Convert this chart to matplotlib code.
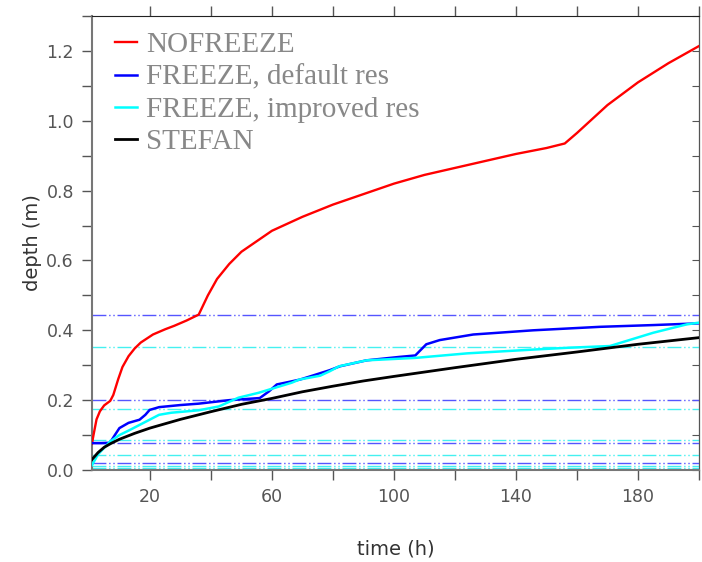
import matplotlib
matplotlib.use("Agg")
import matplotlib.pyplot as plt
import numpy as np

# NOFREEZE
t_nof = [1, 1.5, 2.5, 3.6, 5, 7, 8, 9.6, 11, 13, 15, 17, 21, 25, 28, 32, 36,
         39, 42, 46, 50, 55, 60, 70, 80, 90, 100, 110, 120, 130, 140, 150, 156,
         160, 170, 180, 190, 200]
d_nof = [0.075, 0.1, 0.145, 0.168, 0.185, 0.198, 0.215, 0.26, 0.295, 0.326, 0.348, 0.365,
         0.388, 0.403, 0.413, 0.428, 0.445, 0.5, 0.547, 0.59, 0.625, 0.655, 0.685,
         0.725, 0.76, 0.79, 0.82, 0.845, 0.865, 0.885, 0.905, 0.922, 0.935,
         0.965, 1.045, 1.11, 1.165, 1.214]

# FREEZE, default res
t_def = [1, 4, 6.9, 8.5, 10, 13, 16.6, 18.5, 19.9, 23, 30, 36, 46, 56, 59, 61.6, 66,
         69.2, 72.5, 79, 82.3, 91, 102, 107, 110.6, 115, 126, 145.6, 167.6, 185, 200]
d_def = [0.077, 0.077, 0.078, 0.1, 0.12, 0.135, 0.144, 0.158, 0.172, 0.18, 0.186, 0.19,
         0.2, 0.206, 0.225, 0.245, 0.253, 0.259, 0.268, 0.286, 0.297, 0.314, 0.324, 0.328,
         0.36, 0.372, 0.388, 0.4, 0.41, 0.415, 0.42]

# FREEZE, improved res
t_imp = [1, 3, 6.9, 10, 13.5, 19.9, 23, 27, 36, 42.6, 49, 55.6, 66.5, 69, 75.8, 79,
         82, 91, 107, 124, 146, 157, 170.8, 185, 196, 200]
d_imp = [0.014, 0.045, 0.081, 0.1, 0.115, 0.144, 0.158, 0.164, 0.171, 0.182, 0.207, 0.221,
         0.25, 0.259, 0.27, 0.283, 0.297, 0.314, 0.321, 0.334, 0.345, 0.35, 0.355, 0.393,
         0.417, 0.422]

# STEFAN
t_ste = [1, 3, 5, 7, 10, 15, 20, 30, 40, 50, 60, 70, 80, 90, 100, 120, 140, 160, 180, 200]
d_ste = [0.03, 0.05, 0.065, 0.075, 0.088, 0.105, 0.12, 0.145, 0.167, 0.188, 0.205, 0.224,
         0.24, 0.255, 0.268, 0.293, 0.317, 0.338, 0.36, 0.379]

# layer interfaces
lev_def = [0.0193, 0.0786, 0.2, 0.443]
lev_imp = [0.005, 0.0115, 0.0432, 0.086, 0.176, 0.351]

labels = ["NOFREEZE", "FREEZE, default res", "FREEZE, improved res", "STEFAN"]
colors = ["#ff0000", "#0000ff", "#00ffff", "#000000"]

fig = plt.figure(figsize=(7.02, 5.62), dpi=100)
ax = fig.add_axes([0.131, 0.1637, 0.8647, 0.8078])

for y in lev_def:
    ax.axhline(y, color="#5555ff", lw=1.0, ls=(0, (10, 2, 1, 2, 1, 2)), zorder=1)
for y in lev_imp:
    ax.axhline(y, color="#44f0f0", lw=1.0, ls=(0, (10, 2, 1, 2, 1, 2)), zorder=1)

series = [(t_nof, d_nof), (t_def, d_def), (t_imp, d_imp), (t_ste, d_ste)]
lws = [1.7, 1.8, 1.8, 2.0]
for (t, d), c, lab, lw in zip(series, colors, labels, lws):
    ax.plot(t, d, color=c, lw=lw, label=lab, zorder=3)

ax.set_xlim(1, 200)
ax.set_ylim(0, 1.3)

xt = np.arange(20, 201, 20)
ax.set_xticks(xt)
ax.set_xticklabels([str(v) if v in (20, 60, 100, 140, 180) else "" for v in xt])
yt = np.round(np.arange(0, 1.31, 0.1), 1)
ax.set_yticks(yt)
ax.set_yticklabels([f"{v:.1f}" if round(v * 10) % 2 == 0 else "" for v in yt])

ax.tick_params(axis="both", which="both", direction="out", length=7, width=1,
               colors="#555555", labelsize=12.5, pad=6)
ax.tick_params(top=True, right=False)
sec = ax.secondary_yaxis("right")
sec.set_yticks(yt)
sec.set_yticklabels([])
sec.tick_params(direction="in", length=5, colors="#555555")
for s in ["left", "bottom"]:
    ax.spines[s].set_color("#777777")
    ax.spines[s].set_linewidth(1.5)
ax.spines["top"].set_color("#222222")
ax.spines["right"].set_color("#555555")

ax.set_xlabel("time (h)", fontsize=14, color="#333333", labelpad=24)
ax.set_ylabel("depth (m)", fontsize=14, color="#333333", labelpad=3)

leg = ax.legend(loc="upper left", bbox_to_anchor=(0.012, 1.0), frameon=False,
                handlelength=0.75, handletextpad=0.3,
                labelspacing=0.2, borderaxespad=0.3, borderpad=0.25,
                prop={"family": "Liberation Serif", "size": 21})
for txt in leg.get_texts():
    txt.set_color("#888888")

fig.savefig("out.png", dpi=100)
